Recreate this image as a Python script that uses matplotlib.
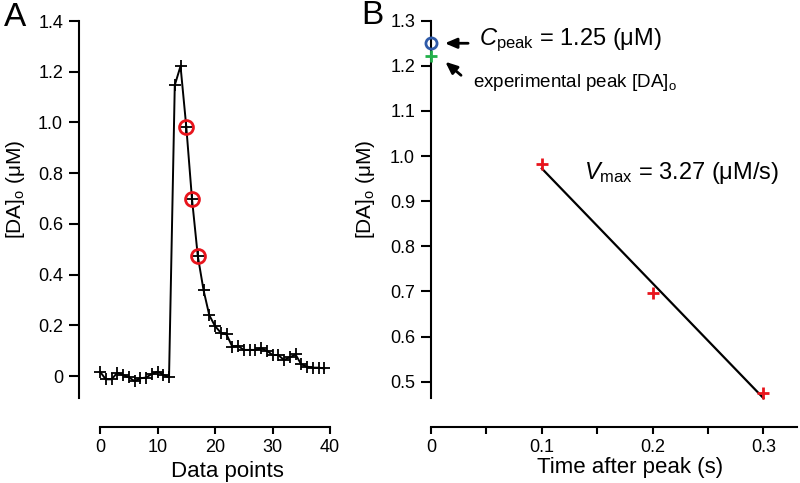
import numpy as np
import matplotlib
matplotlib.use("Agg")
import matplotlib.pyplot as plt
from matplotlib.ticker import MultipleLocator

plt.rcParams['font.family'] = ['Liberation Sans', 'DejaVu Sans']
plt.rcParams['mathtext.fontset'] = 'custom'
plt.rcParams['mathtext.rm'] = 'Liberation Sans'
plt.rcParams['mathtext.it'] = 'Liberation Sans:italic'

# Panel A data
idx = list(range(40))
da_trace = [0.017, -0.013, -0.013, 0.013, 0.004, -0.005, -0.020, -0.009, -0.006, 0.008,
            0.017, 0.005, -0.005, 1.147, 1.222, 0.983, 0.697, 0.474, 0.339, 0.240,
            0.197, 0.171, 0.164, 0.116, 0.119, 0.103, 0.103, 0.103, 0.109, 0.100,
            0.083, 0.083, 0.063, 0.074, 0.085, 0.046, 0.037, 0.033, 0.033, 0.030]
circled_idx = [15, 16, 17]

# Panel B data
t_after = [0.1, 0.2, 0.3]
da_after = [0.983, 0.697, 0.474]
c_peak = 1.25
exp_peak = 1.222
vmax = 3.27

fig = plt.figure(figsize=(8, 4.83), dpi=100)

xtick_kw = dict(axis='x', which='both', direction='out', length=5, width=1.5, labelsize=13, pad=4)
ytick_kw = dict(axis='y', direction='out', length=7, width=1.5, labelsize=13, pad=4.5)
xlabel_fs = 16
ylabel_fs = 15

# ---------------- Panel A ----------------
axA = fig.add_axes([79/800, (483-427)/483, (330-79)/800, (427-21)/483])
axA.plot(idx, da_trace, color='black', lw=1.4, marker='+', ms=9, mew=1.3)
axA.plot([idx[i] for i in circled_idx], [da_trace[i] for i in circled_idx],
         ls='none', marker='o', ms=10, mfc='none', mec='#e8141c', mew=2)
axA.set_xlim(-3.66, 40)
axA.set_ylim(-0.201, 1.4)
axA.spines['top'].set_visible(False)
axA.spines['right'].set_visible(False)
for s in ['left', 'bottom']:
    axA.spines[s].set_linewidth(1.5)
axA.spines['bottom'].set_bounds(0, 40)
axA.spines['left'].set_bounds(-0.087, 1.4)
axA.set_xticks([0, 10, 20, 30, 40])
axA.set_yticks([0, 0.2, 0.4, 0.6, 0.8, 1.0, 1.2, 1.4])
axA.set_yticklabels(['0', '0.2', '0.4', '0.6', '0.8', '1.0', '1.2', '1.4'])
axA.tick_params(**xtick_kw)
axA.tick_params(**ytick_kw)
axA.set_xlabel('Data points', fontsize=xlabel_fs)
axA.xaxis.set_label_coords((227.5-79)/251, (427-461)/406)
axA.set_ylabel(r'[DA]$_\mathrm{o}$ (μM)', fontsize=ylabel_fs, va='center')
axA.yaxis.set_label_coords((16-79)/251, (427-189)/406)

# ---------------- Panel B ----------------
axB = fig.add_axes([431/800, (483-426.7)/483, (796.7-431)/800, (426.7-20.7)/483])
coef = np.polyfit(t_after, da_after, 1)
tfit = np.array([t_after[0], t_after[-1]])
axB.plot(tfit, np.polyval(coef, tfit), color='black', lw=1.6)
axB.plot(t_after, da_after, ls='none', marker='+', ms=9, mew=2, color='#e8141c', clip_on=False)
axB.plot([0], [exp_peak], ls='none', marker='+', ms=9, mew=2, color='#22b04a', clip_on=False, zorder=5)
axB.plot([0], [c_peak], ls='none', marker='o', ms=8, mfc='none', mec='#2f5aa8', mew=2, clip_on=False, zorder=6)
axB.set_xlim(0, 0.330)
axB.set_ylim(0.4002, 1.3)
axB.spines['top'].set_visible(False)
axB.spines['right'].set_visible(False)
for s in ['left', 'bottom']:
    axB.spines[s].set_linewidth(1.5)
axB.spines['left'].set_bounds(0.464, 1.3)
axB.spines['bottom'].set_bounds(0, 0.330)
axB.set_xticks([0, 0.1, 0.2, 0.3])
axB.set_xticklabels(['0', '0.1', '0.2', '0.3'])
axB.xaxis.set_minor_locator(MultipleLocator(0.05))
axB.set_yticks([0.5, 0.6, 0.7, 0.8, 0.9, 1.0, 1.1, 1.2, 1.3])
axB.tick_params(**xtick_kw)
axB.tick_params(**ytick_kw)
axB.set_xlabel('Time after peak (s)', fontsize=xlabel_fs)
axB.xaxis.set_label_coords((630-431)/365.7, (426.7-457)/406)
axB.set_ylabel(r'[DA]$_\mathrm{o}$ (μM)', fontsize=ylabel_fs, va='center')
axB.yaxis.set_label_coords((366-431)/365.7, (426.7-189)/406)

axB.annotate('', xy=(0.010, c_peak), xytext=(0.036, c_peak),
             arrowprops=dict(arrowstyle='-|>,head_length=0.7,head_width=0.3', color='black', lw=2))
axB.text(0.043, 1.256, r'$\mathit{C}_\mathrm{peak}$ = %.2f (μM)' % c_peak,
         fontsize=17, va='center', ha='left')
axB.annotate('', xy=(0.011, 1.213), xytext=(0.029, 1.175),
             arrowprops=dict(arrowstyle='-|>,head_length=0.7,head_width=0.3', color='black', lw=2))
axB.text(0.038, 1.162, r'experimental peak [DA]$_\mathrm{o}$', fontsize=13.5, va='center', ha='left')
axB.text(0.138, 0.962, r'$\mathit{V}_\mathrm{max}$ = %.2f (μM/s)' % vmax,
         fontsize=17, va='center', ha='left')

fig.text(15/800, 1 - 17/483, 'A', fontsize=24, ha='center', va='center')
fig.text(372/800, 1 - 16/483, 'B', fontsize=24, ha='center', va='center')

fig.savefig('out.png', dpi=100)
